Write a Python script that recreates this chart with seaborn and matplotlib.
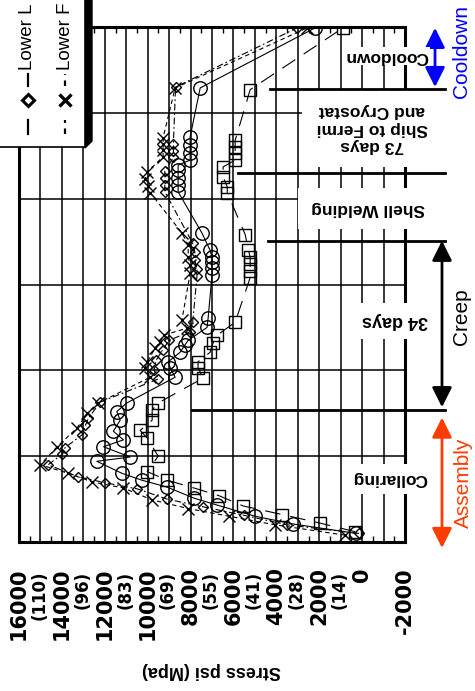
import matplotlib
matplotlib.use("Agg")
import matplotlib.pyplot as plt
from matplotlib.lines import Line2D
from matplotlib.patches import Rectangle, Polygon
import seaborn as sns
import pandas as pd
import numpy as np

plt.rcParams['font.family'] = ['Liberation Sans', 'DejaVu Sans']

# chart is turned on its side: stress (psi) runs across, measurement number runs up
sq_t = [1.2, 2.2, 3.2, 4.2, 5.4, 6.3, 7.2, 8.2, 10.0, 12.1, 13.0, 14.2, 15.4, 16.2,
        19.1, 20.3, 21.0, 22.1, 23.2, 24.1, 25.6, 30.8, 31.6, 32.4, 33.2, 34.0, 35.8,
        40.7, 41.4, 42.5, 43.7, 44.5, 45.3, 46.0, 46.8, 52.7, 59.9]
sq_psi = [330, 1960, 3730, 5550, 6680, 7850, 9090, 10020, 9510, 10020, 10350, 9790, 9790, 9510,
          7410, 7650, 7650, 7090, 6950, 6760, 5920, 5220, 5220, 5220, 5220, 5300, 5450,
          6290, 6290, 6480, 6480, 5920, 5920, 5920, 5920, 5220, 890]

ci_t = [1.0, 2.1, 3.0, 4.3, 5.1, 6.4, 7.2, 8.0, 9.4, 9.9, 11.1, 11.9, 12.9, 14.2, 15.2, 16.2,
        19.2, 20.3, 21.0, 22.1, 23.0, 23.5, 25.0, 26.1,
        31.1, 31.9, 32.6, 33.2, 34.0, 36.0,
        40.8, 41.6, 42.4, 43.3, 43.9, 44.5, 45.3, 46.3, 47.2, 52.9, 59.9]
ci_psi = [280, 3220, 4990, 6760, 7830, 9100, 10270, 11200, 12370, 10820, 12060, 11130, 11600, 11280, 11440, 10970,
          8720, 8950, 9040, 8490, 8250, 8110, 7230, 7180,
          7000, 7000, 7000, 7000, 7090, 7470,
          8580, 8580, 8580, 8580, 8580, 8020, 8020, 8020, 8020, 7550, 2190]

x_t = [0.8, 2.0, 3.0, 3.9, 4.9, 6.3, 7.0, 8.0, 9.0, 11.1, 13.3, 15.0, 16.2,
       19.2, 20.3, 21.0, 22.6, 23.3, 24.1, 24.9, 25.9,
       31.3, 32.3, 33.2, 34.6, 36.0,
       40.7, 41.5, 42.3, 43.1, 44.9, 45.7, 46.4, 47.1, 52.9, 59.9]
x_psi = [800, 4060, 6200, 8110, 9790, 11140, 12590, 13700, 15010, 14220, 13290, 12820, 12300,
         9880, 10120, 10020, 9650, 9420, 9260, 8170, 8400,
         8020, 8020, 8110, 8110, 8400,
         9880, 9970, 10120, 10020, 9280, 9280, 9280, 9280, 8720, 2560]

di_t = [1.0, 2.0, 3.1, 4.1, 5.0, 6.2, 6.9, 7.6, 9.0, 10.2, 11.0, 12.5, 13.6, 14.4, 16.3,
        19.0, 20.0, 21.2, 22.4, 23.5, 24.5, 25.6,
        31.0, 31.8, 32.8, 33.8, 34.8,
        40.8, 41.6, 42.4, 43.2, 44.8, 45.6, 46.4, 53.0, 59.9]
di_psi = [150, 3500, 5500, 7410, 9100, 10500, 11980, 13240, 14640, 14000, 13850, 13050, 12900, 12770, 12210,
          9500, 9700, 9600, 9300, 9000, 8020, 7900,
          7700, 7700, 7800, 7800, 7900,
          9200, 9200, 9200, 9200, 8800, 8800, 8800, 8700, 3030]

stage_t = [15.4, 35.1, 43.0, 52.8]
stage_from_psi = [7925, 4380, 5780, 4290]

psi_ticks = list(range(16000, -2001, -1000))
psi_labels = ['16000', '', '14000', '', '12000', '', '10000', '', '8000', '', '6000', '',
              '4000', '', '2000', '', '0', '', '-2000']
mpa_labels = ['(110)', '(96)', '(83)', '(69)', '(55)', '(41)', '(28)', '(14)']
mpa_psi = [16000, 14000, 12000, 10000, 8000, 6000, 4000, 2000]

# only the start of each legend name is visible in the reference
legend_names = ['Lower L', 'Lower F']

W, H = 475, 691
fig = plt.figure(figsize=(W / 100, H / 100), dpi=100, facecolor='white')
ax = fig.add_axes([19 / W, 149 / H, 386 / W, 515 / H])

series = [
    (sq_psi, sq_t, 's', 8.5, (0, (14, 9))),
    (ci_psi, ci_t, 'o', 9.7, '-'),
    (x_psi, x_t, 'x', 8, (0, (4, 3))),
    (di_psi, di_t, 'D', 5.5, (0, (6, 2.5, 1.5, 2.5))),
]
for psi, t, mk, ms, ls in series:
    df = pd.DataFrame({'psi': psi, 't': t})
    sns.lineplot(data=df, x='psi', y='t', sort=False, estimator=None, ax=ax,
                 color='black', linewidth=0.8, linestyle=ls, marker=mk, markersize=ms,
                 markerfacecolor='none', markeredgecolor='black', markeredgewidth=1.0,
                 zorder=3)

ax.set_xlim(16000, -2000)
ax.set_ylim(0, 60)
ax.set_xlabel('')
ax.set_ylabel('')

ax.set_xticks(psi_ticks)
ax.set_xticklabels(psi_labels, rotation=90, fontsize=15, fontweight='bold', family='DejaVu Sans')
ax.set_xticks(np.arange(-1500, 16000, 1000), minor=True)
ax.set_yticks(range(0, 61, 10))
ax.set_yticklabels([])
ax.tick_params(axis='x', which='major', length=0, pad=18)
ax.tick_params(axis='x', which='minor', direction='in', length=4, width=1, top=True, bottom=True)
ax.tick_params(axis='y', length=0)
ax.grid(True, which='major', color='black', lw=1.1)
ax.set_axisbelow(True)
for sp in ax.spines.values():
    sp.set_linewidth(2.2)

# second line of the stress labels (MPa)
for lab, p in zip(mpa_labels, mpa_psi):
    ax.text(p - 950, -0.056, lab, transform=ax.get_xaxis_transform(), rotation=90,
            ha='center', va='top', fontsize=12, fontweight='bold', family='DejaVu Sans')

ax.text(7040, -0.25, 'Stress psi (Mpa)', transform=ax.get_xaxis_transform(), rotation=180,
        ha='center', va='center', fontsize=13, fontweight='bold')

# stage boundaries
for tt, p0 in zip(stage_t, stage_from_psi):
    ax.plot([p0, -3865], [tt, tt], color='black', lw=2, clip_on=False, zorder=6)

box = dict(fc='white', ec='none')
ax.text(-1301, 7.34, 'Collaring', rotation=180, ha='center', va='center', fontsize=12.5,
        fontweight='bold', bbox=dict(boxstyle='square,pad=0.45', **box), zorder=5, clip_on=False)
ax.text(-1534, 25.75, '34 days', rotation=180, ha='center', va='center', fontsize=13,
        fontweight='bold', bbox=dict(boxstyle='square,pad=0.55', **box), zorder=5, clip_on=False)
ax.text(-275, 38.9, 'Shell Welding', rotation=180, ha='center', va='center', fontsize=12.5,
        fontweight='bold', bbox=dict(boxstyle='square,pad=0.75', **box), zorder=5, clip_on=False)
ax.text(-461, 48.2, '73 days\nShip to Fermi\nand Cryostat', rotation=180, ha='center', va='center',
        fontsize=12.5, fontweight='bold', linespacing=1.2, multialignment='center',
        bbox=dict(boxstyle='square,pad=0.8', **box), zorder=5, clip_on=False)
ax.text(-1114, 56.6, 'Cooldown', rotation=180, ha='center', va='center', fontsize=12.5,
        fontweight='bold', bbox=dict(boxstyle='square,pad=0.1', **box), zorder=5, clip_on=False)

# phase arrows and labels
arrows = [(-3400, 59.9, 53.0, '#0000ff'), (-3725, 35.1, 15.7, 'black'), (-3725, 14.5, -0.7, '#ff3c00')]
for p, t0, t1, c in arrows:
    ax.annotate('', xy=(p, t0), xytext=(p, t1), annotation_clip=False,
                arrowprops=dict(arrowstyle='<|-|>,head_length=0.6,head_width=0.3', color=c,
                                lw=2, mutation_scale=20, shrinkA=0, shrinkB=0))
ax.text(-4658, 57.1, 'Cooldown', rotation=90, ha='center', va='center', fontsize=15,
        color='#0000ff', clip_on=False)
ax.text(-4658, 26.3, 'Creep', rotation=90, ha='center', va='center', fontsize=15,
        color='black', clip_on=False)
ax.text(-4705, 6.9, 'Assembly', rotation=90, ha='center', va='center', fontsize=15,
        color='#ff3c00', clip_on=False)

# legend box (cut by the top edge), drawn in figure pixels
def fx(px):
    return px / W

def fy(py):
    return 1 - py / H

fig.add_artist(Polygon([(fx(85), fy(-10)), (fx(92), fy(-10)), (fx(92), fy(141)), (fx(85), fy(148))],
                       closed=True, transform=fig.transFigure, fc='black', ec='black', zorder=9))
fig.add_artist(Rectangle((fx(-5), fy(147)), 90 / W, 160 / H, transform=fig.transFigure,
                         fc='white', ec='black', lw=1.2, zorder=10))
legend_rows = [(28, '-', 'D', 6, 2.2), (65, (0, (2.5, 2.5)), 'x', 8, 2.4)]
for (xp, ls, mk, ms, mw), name in zip(legend_rows, legend_names):
    for a, b in [(134, 120), (86, 74)]:
        fig.add_artist(Line2D([fx(xp), fx(xp)], [fy(a), fy(b)], transform=fig.transFigure,
                              color='black', lw=1.6, linestyle=ls, zorder=11))
    fig.add_artist(Line2D([fx(xp)], [fy(100)], transform=fig.transFigure, marker=mk, markersize=ms,
                          markerfacecolor='white', markeredgecolor='black', markeredgewidth=mw,
                          linestyle='none', zorder=11))
    fig.text(fx(xp), fy(70), name, rotation=90, ha='center', va='bottom', fontsize=13.5, zorder=11)

fig.savefig('out.png', dpi=100, facecolor='white')
